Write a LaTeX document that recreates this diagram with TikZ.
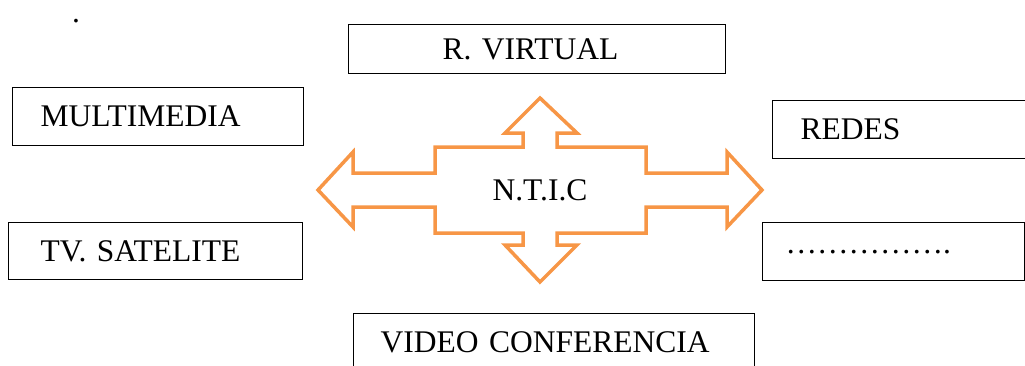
\documentclass[tikz,border=0pt]{standalone}
\usepackage{fontspec}
\setmainfont{Liberation Serif}
\usetikzlibrary{positioning}
\definecolor{naranja}{RGB}{247,150,70}
\tikzset{ntbox/.style={draw, line width=1.2pt, anchor=north west, inner xsep=0pt, inner ysep=0pt, align=left, font=\fontsize{31.5}{36}\selectfont}}
\tikzset{flecha/.style={draw=naranja, line width=3.5pt, fill=white, line join=miter}}
\tikzset{rotulo/.style={inner sep=0pt, font=\fontsize{31.5}{36}\selectfont}}

\begin{document}
\begin{tikzpicture}[x=1pt, y=-1pt]
	\clip (0,0) rectangle (1025,365);
	\node[rotulo, anchor=base] (punto) at (76,22) {.};
	% cajas
	\node[ntbox, text width=377pt, minimum height=49pt] (virtual) at (348,24) {\hspace*{94pt}R. VIRTUAL};
	\node[ntbox, text width=291pt, minimum height=58pt] (multi) at (12,87) {\hspace*{28pt}MULTIMEDIA};
	\node[ntbox, text width=294pt, minimum height=57pt] (tv) at (8,222) {\hspace*{32pt}TV. SATELITE};
	\node[ntbox, text width=280pt, minimum height=58pt] (redes) at (772,100) {\hspace*{28pt}REDES};
	\node[ntbox, text width=262pt, minimum height=58pt] (puntos) at (762,222) {\hspace*{23pt}…………….};
	\node[ntbox, text width=401pt, minimum height=58pt] (video) at (353,313) {\hspace*{27pt}VIDEO CONFERENCIA};
	% flecha de cuatro puntas
	\draw[flecha] (318,190) -- (353,152) -- (353,173) -- (435,173) -- (435,147)
		-- (523,147) -- (523,133) -- (505,133) -- (540,98) -- (577,133) -- (557,133) -- (557,147)
		-- (646,147) -- (646,173) -- (727,173) -- (727,152) -- (762,190) -- (727,227) -- (727,207)
		-- (646,207) -- (646,233) -- (557,233) -- (557,245) -- (577,245) -- (540,282) -- (505,245)
		-- (523,245) -- (523,233) -- (435,233) -- (435,207) -- (353,207) -- (353,227) -- cycle;
	\node[rotulo] (ntic) at (540,190) {N.T.I.C};
\end{tikzpicture}
\end{document}
